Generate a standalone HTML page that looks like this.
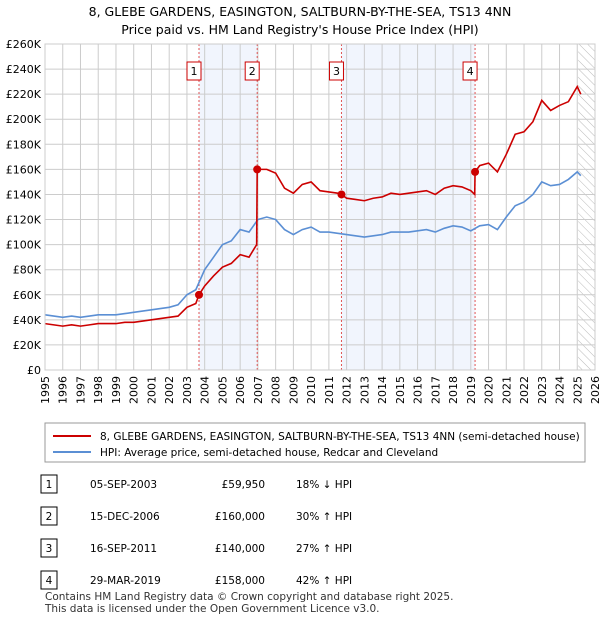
<!DOCTYPE html>
<html><head><meta charset="utf-8"><style>
body{margin:0;background:#fff;font-family:"Liberation Sans","DejaVu Sans",sans-serif;}
svg text{font-family:"DejaVu Sans","Liberation Sans",sans-serif;}
</style></head><body>
<svg id="c" width="600" height="620" viewBox="0 0 600 620" xmlns="http://www.w3.org/2000/svg">
<defs><pattern id="hatch" width="6" height="6" patternUnits="userSpaceOnUse" patternTransform="rotate(-45)"><line x1="0" y1="0" x2="0" y2="6" stroke="#bbb" stroke-width="1"/></pattern></defs>
<text x="300" y="16" text-anchor="middle" font-size="12.5" fill="#000">8, GLEBE GARDENS, EASINGTON, SALTBURN-BY-THE-SEA, TS13 4NN</text>
<text x="300" y="34" text-anchor="middle" font-size="12.5" fill="#000">Price paid vs. HM Land Registry's House Price Index (HPI)</text>
<g id="plot"></g>
<g>
<rect x="45" y="423" width="540" height="39" fill="#fff" stroke="#999"/>
<line x1="53" y1="436" x2="91" y2="436" stroke="#cc0000" stroke-width="2"/>
<text x="100" y="440" font-size="10.5">8, GLEBE GARDENS, EASINGTON, SALTBURN-BY-THE-SEA, TS13 4NN (semi-detached house)</text>
<line x1="53" y1="452" x2="91" y2="452" stroke="#5b8fd4" stroke-width="2"/>
<text x="100" y="456" font-size="10.5">HPI: Average price, semi-detached house, Redcar and Cleveland</text>
</g>
<g id="table" font-size="10.5"></g>
<text x="45" y="600" font-size="10.5" fill="#333">Contains HM Land Registry data © Crown copyright and database right 2025.</text>
<text x="45" y="612" font-size="10.5" fill="#333">This data is licensed under the Open Government Licence v3.0.</text>
</svg>
<script>
const yearTicks=[1995,1996,1997,1998,1999,2000,2001,2002,2003,2004,2005,2006,2007,2008,2009,2010,2011,2012,2013,2014,2015,2016,2017,2018,2019,2020,2021,2022,2023,2024,2025,2026];
const priceTicks=[0,20,40,60,80,100,120,140,160,180,200,220,240,260];
const hpiDates=[1995,1995.5,1996,1996.5,1997,1997.5,1998,1998.5,1999,1999.5,2000,2000.5,2001,2001.5,2002,2002.5,2003,2003.5,2004,2004.5,2005,2005.5,2006,2006.5,2007,2007.5,2008,2008.5,2009,2009.5,2010,2010.5,2011,2011.5,2012,2012.5,2013,2013.5,2014,2014.5,2015,2015.5,2016,2016.5,2017,2017.5,2018,2018.5,2019,2019.5,2020,2020.5,2021,2021.5,2022,2022.5,2023,2023.5,2024,2024.5,2025,2025.2];
const hpiValues=[44,43,42,43,42,43,44,44,44,45,46,47,48,49,50,52,60,64,80,90,100,103,112,110,120,122,120,112,108,112,114,110,110,109,108,107,106,107,108,110,110,110,111,112,110,113,115,114,111,115,116,112,122,131,134,140,150,147,148,152,158,155];
const priceDates=[1995,1995.5,1996,1996.5,1997,1997.5,1998,1998.5,1999,1999.5,2000,2000.5,2001,2001.5,2002,2002.5,2003,2003.5,2003.68,2004,2004.5,2005,2005.5,2006,2006.5,2006.93,2006.96,2007.5,2008,2008.5,2009,2009.5,2010,2010.5,2011,2011.5,2011.71,2012,2012.5,2013,2013.5,2014,2014.5,2015,2015.5,2016,2016.5,2017,2017.5,2018,2018.5,2019,2019.22,2019.24,2019.5,2020,2020.5,2021,2021.5,2022,2022.5,2023,2023.5,2024,2024.5,2025,2025.2];
const priceValues=[37,36,35,36,35,36,37,37,37,38,38,39,40,41,42,43,50,53,60,67,75,82,85,92,90,100,160,160,157,145,141,148,150,143,142,141,140,137,136,135,137,138,141,140,141,142,143,140,145,147,146,143,140,158,163,165,158,172,188,190,198,215,207,211,214,226,220];
const saleLabels=["1","2","3","4"];
const saleDates=[2003.68,2006.96,2011.71,2019.24];
const salePrices=[59.95,160,140,158];
const saleDateText=["05-SEP-2003","15-DEC-2006","16-SEP-2011","29-MAR-2019"];
const salePriceText=["£59,950","£160,000","£140,000","£158,000"];
const saleHpiText=["18% ↓ HPI","30% ↑ HPI","27% ↑ HPI","42% ↑ HPI"];
const NS="http://www.w3.org/2000/svg";
const L=45,R=595,T=44,B=370;
const xs=y=>L+(y-1995)*(R-L)/31;
const ys=v=>B-v*(B-T)/260;
const g=document.getElementById('plot');
function mk(tag,attrs,parent){const e=document.createElementNS(NS,tag);for(const k in attrs)e.setAttribute(k,attrs[k]);(parent||g).appendChild(e);return e;}
for(const [a,b] of [[0,1],[2,3]]){
 const r=mk('rect',{x:xs(saleDates[a]),y:T,width:xs(saleDates[b])-xs(saleDates[a]),height:B-T,fill:'#eef3fc',opacity:0.8});
 
 
}
const h=mk('rect',{x:xs(2025.05),y:T,width:R-xs(2025.05),height:B-T,fill:'url(#hatch)'});


yearTicks.forEach(y=>{const l=mk('line',{x1:xs(y),x2:xs(y),y1:T,y2:B,stroke:'#ccc','stroke-width':1});
 
 
 const t=mk('text',{x:0,y:0,'font-size':11,'text-anchor':'end',transform:`translate(${xs(y)+4},${B+6}) rotate(-90)`});
 t.textContent=y;
 
 
});
priceTicks.forEach(v=>{const l=mk('line',{x1:L,x2:R,y1:ys(v),y2:ys(v),stroke:'#ccc','stroke-width':1});
 
 
 const t=mk('text',{x:L-4,y:ys(v)+4,'font-size':11,'text-anchor':'end'});
 t.textContent=v===0?'£0':'£'+v+'K';
 
 
});
saleDates.forEach((d,i)=>{const l=mk('line',{x1:xs(d),x2:xs(d),y1:T,y2:B,stroke:'#e05555','stroke-width':1,'stroke-dasharray':'2,2'});
 
 
 const bx=mk('rect',{x:xs(d)-12,y:62,width:14,height:18,fill:'#fff',stroke:'#cc0000'});
 
 
 const t=mk('text',{x:xs(d)-5,y:75,'font-size':11,'text-anchor':'middle'});
 t.textContent=saleLabels[i];
 
 
});
function line(dates,vals,color,name){const p=mk('polyline',{points:dates.map((d,i)=>xs(d)+','+ys(vals[i])).join(' '),fill:'none',stroke:color,'stroke-width':1.6});
 
 }
line(hpiDates,hpiValues,'#5b8fd4','hpi-line');
line(priceDates,priceValues,'#cc0000','property-price-line');
saleDates.forEach((d,i)=>{const c=mk('circle',{cx:xs(d),cy:ys(salePrices[i]),r:4,fill:'#cc0000'});
 
 });
const fr=mk('rect',{x:L,y:T,width:R-L,height:B-T,fill:'none',stroke:'#ccc'});


const tb=document.getElementById('table');
saleLabels.forEach((s,i)=>{const y=486+i*32;
 const b=mk('rect',{x:41,y:y-11,width:16,height:18,fill:'#fff',stroke:'#000'},tb);
 
 
 const cells=[[49,s,'middle'],[90,saleDateText[i],'start'],[265,salePriceText[i],'end'],[296,saleHpiText[i],'start']];
 cells.forEach(c=>{const t=mk('text',{x:c[0],y:y+2,'text-anchor':c[2]},tb);t.textContent=c[1];
  
  });
});
</script>
</body></html>
